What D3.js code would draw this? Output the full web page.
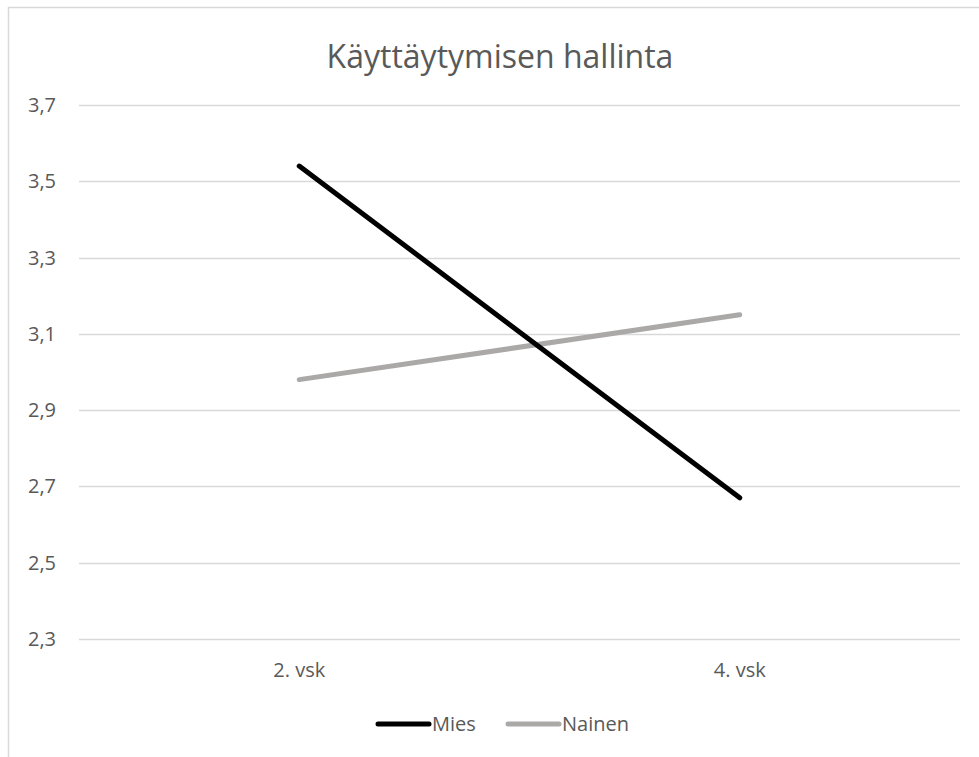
<!DOCTYPE html>
<html>
<head>
<meta charset="utf-8">
<script src="https://cdn.jsdelivr.net/npm/d3@7"></script>
<style>
  html, body { margin: 0; padding: 0; background: #fff; }
  svg { display: block; }
  text { font-family: "Open Sans", "Noto Sans", sans-serif; fill: #595959; }
</style>
</head>
<body>
<svg id="chart" width="979" height="757"></svg>
<script>
// Chart data
const title = "Käyttäytymisen hallinta";
const categories = ["2. vsk", "4. vsk"];
const seriesNames = ["Mies", "Nainen"];
const miesValues = [3.54, 2.67];
const nainenValues = [2.98, 3.15];
const yTicks = [2.3, 2.5, 2.7, 2.9, 3.1, 3.3, 3.5, 3.7];
const seriesColors = ["#000000", "#ABA8A8"];

const series = [
  { name: seriesNames[0], values: miesValues, color: seriesColors[0] },
  { name: seriesNames[1], values: nainenValues, color: seriesColors[1] }
];

const W = 979, H = 757;
const margin = { left: 79, right: 19, top: 105, bottom: 118 };
const svg = d3.select("#chart");

// Chart-area frame (top and left edges visible)
svg.append("path")
  .attr("d", `M8.5,${H} L8.5,7.5 L${W},7.5`)
  .attr("fill", "none")
  .attr("stroke", "#d9d9d9")
  .attr("stroke-width", 1.5);

const x = d3.scaleBand()
  .domain(categories)
  .range([margin.left, W - margin.right]);

const y = d3.scaleLinear()
  .domain([2.3, 3.7])
  .range([H - margin.bottom, margin.top]);

// Horizontal gridlines
svg.append("g")
  .selectAll("line")
  .data(yTicks)
  .join("line")
  .attr("x1", margin.left)
  .attr("x2", W - margin.right)
  .attr("y1", d => Math.round(y(d)) + 0.5)
  .attr("y2", d => Math.round(y(d)) + 0.5)
  .attr("stroke", "#d9d9d9")
  .attr("stroke-width", 1.5);

// Y axis labels
const fmt = d => d3.format(".1f")(d).replace(".", ",");
svg.append("g")
  .selectAll("text")
  .data(yTicks)
  .join("text")
  .attr("x", 56)
  .attr("y", d => y(d))
  .attr("dy", "0.35em")
  .attr("text-anchor", "end")
  .attr("font-size", 20)
  .text(fmt);

// X axis labels
svg.append("g")
  .selectAll("text")
  .data(categories)
  .join("text")
  .attr("x", d => x(d) + x.bandwidth() / 2)
  .attr("y", H - margin.bottom + 38)
  .attr("text-anchor", "middle")
  .attr("font-size", 20)
  .text(d => d);

// Series lines
const line = d3.line()
  .x((d, i) => x(categories[i]) + x.bandwidth() / 2)
  .y(d => y(d));

svg.append("g")
  .selectAll("path")
  .data(series.slice().reverse())
  .join("path")
  .attr("d", d => line(d.values))
  .attr("fill", "none")
  .attr("stroke", d => d.color)
  .attr("stroke-width", 5)
  .attr("stroke-linecap", "round");

// Title
svg.append("text")
  .attr("x", 500)
  .attr("y", 68)
  .attr("text-anchor", "middle")
  .attr("font-size", 32)
  .text(title);

// Legend
const legendY = 724;
const legendItems = [
  { x: 376, ...series[0] },
  { x: 506, ...series[1] }
];
const lg = svg.append("g");
lg.selectAll("line")
  .data(legendItems)
  .join("line")
  .attr("x1", d => d.x + 2)
  .attr("x2", d => d.x + 53)
  .attr("y1", legendY)
  .attr("y2", legendY)
  .attr("stroke", d => d.color)
  .attr("stroke-width", 5)
  .attr("stroke-linecap", "round");
lg.selectAll("text")
  .data(legendItems)
  .join("text")
  .attr("x", d => d.x + 56)
  .attr("y", legendY)
  .attr("dy", "0.35em")
  .attr("font-size", 20)
  .text(d => d.name);
</script>
</body>
</html>
